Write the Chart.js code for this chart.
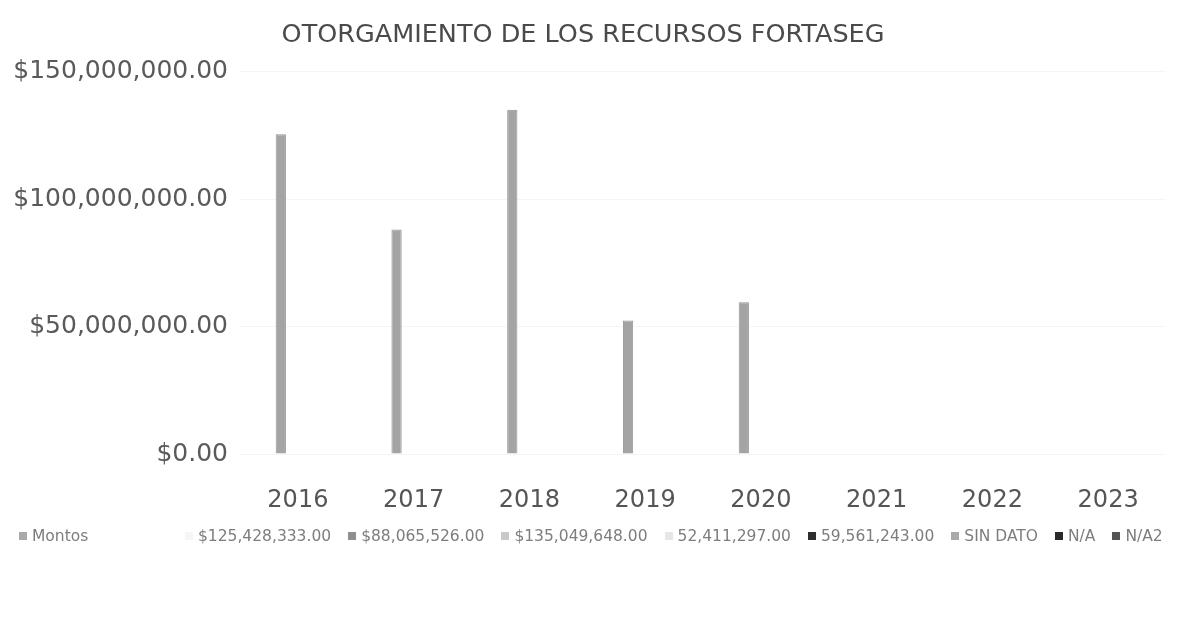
<!DOCTYPE html>
<html>
<head>
<meta charset="utf-8">
<script src="https://cdn.jsdelivr.net/npm/chart.js@4.4.0/dist/chart.umd.min.js"></script>
<style>
  html, body { margin: 0; padding: 0; background: #fff; }
  #wrap { position: relative; width: 1183px; height: 625px; overflow: hidden; }
  #chart { position: absolute; left: 0; top: 0; }
  .legend-row {
    position: absolute; top: 526px; height: 20px;
    display: flex; align-items: center; gap: 17px;
    font-family: "DejaVu Sans", sans-serif; font-size: 15.5px; color: #7d7d7d;
    white-space: nowrap;
  }
  #legend-a { left: 19px; }
  #legend-b { left: 185px; }
  .legend-row .item { display: flex; align-items: center; gap: 5px; }
  .legend-row .sw { width: 8px; height: 8px; display: inline-block; }
</style>
</head>
<body>
<div id="wrap">
  <canvas id="chart" width="1183" height="625"></canvas>
  <div id="legend-a" class="legend-row"></div>
  <div id="legend-b" class="legend-row"></div>
</div>
<script>
  // Chart data
  const years = ['2016', '2017', '2018', '2019', '2020', '2021', '2022', '2023'];
  const montos = [125428333, 88065526, 135049648, 52411297, 59561243, null, null, null];
  const yTicks = [0, 50000000, 100000000, 150000000];

  // Legend row (as printed under the chart)
  const legendLabels = ['Montos', '$125,428,333.00', '$88,065,526.00', '$135,049,648.00', '52,411,297.00', '59,561,243.00', 'SIN DATO', 'N/A', 'N/A2'];
  const legendColors = ['#a9a9a9', '#f6f6f6', '#8f8f8f', '#c8c8c8', '#e6e6e6', '#2f2f2f', '#a9a9a9', '#2a2a2a', '#555555'];

  const fontFamily = '"DejaVu Sans", sans-serif';

  legendLabels.forEach((label, i) => {
    const row = document.getElementById(i === 0 ? 'legend-a' : 'legend-b');
    const item = document.createElement('span');
    item.className = 'item';
    const sw = document.createElement('span');
    sw.className = 'sw';
    sw.style.background = legendColors[i];
    item.appendChild(sw);
    item.appendChild(document.createTextNode(label));
    row.appendChild(item);
  });

  function money(v) {
    return '$' + Number(v).toLocaleString('en-US', { minimumFractionDigits: 2, maximumFractionDigits: 2 });
  }

  const ctx = document.getElementById('chart').getContext('2d');
  new Chart(ctx, {
    type: 'bar',
    data: {
      labels: years,
      datasets: [
        {
          label: 'Montos',
          data: montos,
          backgroundColor: '#a4a4a4',
          borderColor: '#969696',
          borderWidth: 1,
          categoryPercentage: 0.59,
          barPercentage: 0.3
        },
        {
          // empty second series, keeps the bars off-centre like the original
          label: '',
          data: years.map(() => null),
          categoryPercentage: 0.59,
          barPercentage: 0.3
        }
      ]
    },
    options: {
      responsive: false,
      animation: false,
      layout: { padding: { left: 0, right: 17, top: 0, bottom: 111 } },
      plugins: {
        legend: { display: false },
        tooltip: { enabled: false },
        title: {
          display: true,
          text: 'OTORGAMIENTO DE LOS RECURSOS FORTASEG',
          color: '#4a4a4a',
          font: { family: fontFamily, size: 25.5, weight: 'normal' },
          padding: { top: 20, bottom: 21 }
        }
      },
      scales: {
        x: {
          grid: { display: false },
          border: { display: false },
          ticks: { color: '#555555', padding: 24, font: { family: fontFamily, size: 24 } },
          afterFit: (scale) => { scale.height = 60; }
        },
        y: {
          min: 0,
          max: 150000000,
          afterBuildTicks: (scale) => { scale.ticks = yTicks.map(v => ({ value: v })); },
          grid: { color: '#f5f5f5', drawTicks: false },
          border: { display: false },
          ticks: {
            color: '#5a5a5a',
            padding: 12,
            font: { family: fontFamily, size: 25 },
            callback: (v) => money(v)
          },
          afterFit: (scale) => { scale.width = 240; }
        }
      }
    }
  });
</script>
</body>
</html>
